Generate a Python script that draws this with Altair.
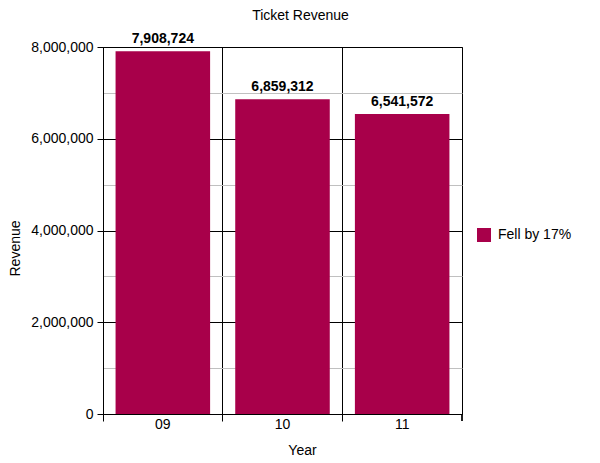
import altair as alt
import pandas as pd

years = ["09", "10", "11"]
revenue = [7908724, 6859312, 6541572]
series = ["Fell by 17%", "Fell by 17%", "Fell by 17%"]

df = pd.DataFrame({"Year": years, "Revenue": revenue, "Series": series})

FONT = "Liberation Sans"
BAR = "#A8004A"
W, H = 359, 367
FS = 14

major = "datum.value % 2000000 === 0"

base = alt.Chart(df)

bars = base.mark_bar(width=alt.RelativeBandSize(0.79)).encode(
    x=alt.X(
        "Year:N",
        sort=years,
        scale=alt.Scale(paddingInner=0, paddingOuter=0),
        axis=alt.Axis(
            title="Year",
            labelAngle=0,
            bandPosition=0,
            grid=True,
            gridColor="#000000",
            gridOpacity=1,
            tickSize=7,
            tickColor="#000000",
            domainColor="#000000",
            labelBaseline="alphabetic",
            labelPadding=7,
            labelAlign="center",
            titleX=199,
            titleY=29,
            titleBaseline="top",
            titleAlign="center",
        ),
    ),
    y=alt.Y(
        "Revenue:Q",
        scale=alt.Scale(domain=[0, 8000000], nice=False),
        axis=alt.Axis(
            title="Revenue",
            values=list(range(0, 8000001, 1000000)),
            labelExpr=f"{major} ? format(datum.value, ',') : ''",
            grid=True,
            gridColor={"condition": {"test": major, "value": "#000000"}, "value": "#c0c0c0"},
            gridOpacity=1,
            tickColor={"condition": {"test": major, "value": "#000000"}, "value": "transparent"},
            tickSize=6,
            labelPadding=4,
            domainColor="#000000",
            titleX=-84,
            titleY=201,
            titleAngle=270,
            titleBaseline="alphabetic",
            titleAlign="center",
        ),
    ),
    color=alt.Color(
        "Series:N",
        scale=alt.Scale(range=[BAR]),
        legend=alt.Legend(
            title=None,
            orient="none",
            legendX=374,
            legendY=181,
            symbolType="square",
            symbolSize=196,
            symbolStrokeWidth=0,
            symbolOpacity=1,
            labelOffset=7,
        ),
    ),
)

labels = base.mark_text(
    fontWeight="bold", fontSize=FS, baseline="alphabetic", dy=-8, color="#000000", font=FONT
).encode(
    x=alt.X("Year:N", sort=years),
    y="Revenue:Q",
    text=alt.Text("Revenue:Q", format=","),
)

end_tick = alt.Chart(df).mark_rule(color="#000000").encode(
    x=alt.value(W), y=alt.value(H), y2=alt.value(H + 7)
)

chart = (
    alt.layer(bars, labels, end_tick)
    .properties(
        width=W,
        height=H,
        title=alt.TitleParams(
            "Ticket Revenue", fontSize=FS, fontWeight="normal", font=FONT, anchor="middle",
            frame="group", offset=9, dx=18, color="#000000"
        ),
        autosize=alt.AutoSizeParams(type="none"),
        padding={"left": 95, "top": 39, "right": 130, "bottom": 45},
    )
    .configure_view(stroke="#000000", strokeWidth=1)
    .configure_axis(
        labelFont=FONT, titleFont=FONT, labelFontSize=FS, titleFontSize=FS,
        labelColor="#000000", titleColor="#000000", titleFontWeight="normal", gridWidth=1
    )
    .configure_legend(labelFont=FONT, labelFontSize=FS, labelColor="#000000")
)

chart.save("out.html", embed_options={"renderer": "svg", "actions": False})
